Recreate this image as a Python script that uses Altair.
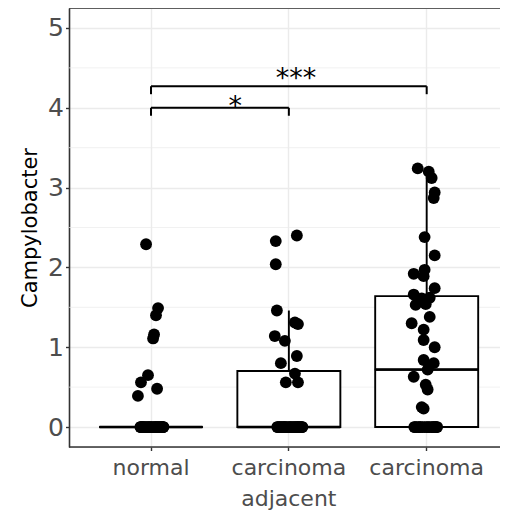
import altair as alt
import pandas as pd

groups = ["normal", "carcinoma adjacent", "carcinoma"]

# non-zero observations (value, horizontal jitter as fraction of category step)
normal_values = [2.29, 1.49, 1.40, 1.16, 1.11, 0.65, 0.56, 0.48, 0.39]
normal_jitter = [-0.036, 0.051, 0.036, 0.022, 0.015, -0.022, -0.073, 0.044, -0.095]
normal_zero_jitter = [-0.075, -0.06, 0.03, 0.088, -0.02, 0.05, -0.045, 0.07, 0.0, -0.068,
                      0.015, 0.082, -0.03, 0.042, -0.055, 0.061, -0.01, 0.025, 0.09, -0.077,
                      0.035, -0.04, 0.075, 0.005, -0.065, 0.055, -0.015, 0.08]

adjacent_values = [2.33, 2.40, 2.04, 1.46, 1.29, 1.31, 1.14, 1.08, 0.89, 0.80, 0.67, 0.56, 0.56]
adjacent_jitter = [-0.095, 0.058, -0.095, -0.087, 0.066, 0.044, -0.102, -0.029, 0.058, -0.058,
                   0.044, -0.022, 0.066]
adjacent_zero_jitter = [-0.08, 0.09, -0.05, 0.02, 0.07, -0.03, 0.045, -0.065, 0.095, 0.0,
                        -0.015, 0.06, -0.084, 0.03, 0.08, -0.04, 0.012, 0.052, -0.07, 0.098,
                        -0.022, 0.038, -0.058, 0.075, 0.005, -0.035, 0.065]

carcinoma_values = [3.24, 3.20, 3.12, 2.94, 2.87, 2.38, 2.15, 1.97, 1.92, 1.89, 1.74, 1.66,
                    1.62, 1.61, 1.54, 1.53, 1.38, 1.30, 1.22, 1.09, 1.00, 0.84, 0.80, 0.72,
                    0.63, 0.53, 0.47, 0.25, 0.23]
carcinoma_jitter = [-0.065, 0.015, 0.036, 0.058, 0.051, -0.015, 0.058, -0.015, -0.094, -0.022,
                    0.058, -0.094, 0.022, -0.036, -0.007, -0.080, 0.022, -0.109, -0.022, -0.022,
                    0.058, -0.022, 0.051, 0.007, -0.094, -0.007, 0.007, -0.036, -0.022]
carcinoma_zero_jitter = [-0.09, 0.07, -0.06, 0.02, 0.05, -0.03, 0.076, -0.075, 0.0, 0.035,
                         -0.045, 0.06, -0.015, -0.085, 0.01, 0.045, -0.05, 0.065]

# significance brackets
cmp_start = ["normal", "normal"]
cmp_end = ["carcinoma adjacent", "carcinoma"]
cmp_level = [4.0, 4.27]
tip_drop = 0.1
star_text = ["*", "***"]
star_group = ["normal", "carcinoma adjacent"]
star_offset = [0.611, 0.051]
star_y = [3.91, 4.26]

y_limits = [-0.25, 5.25]
minor_breaks = [0.5, 1.5, 2.5, 3.5, 4.5]
major_breaks = [0, 1, 2, 3, 4, 5]

rows = []
for g, vals, jit, zj in [
    ("normal", normal_values, normal_jitter, normal_zero_jitter),
    ("carcinoma adjacent", adjacent_values, adjacent_jitter, adjacent_zero_jitter),
    ("carcinoma", carcinoma_values, carcinoma_jitter, carcinoma_zero_jitter),
]:
    for v, j in zip(vals, jit):
        rows.append({"group": g, "value": v, "jitter": j})
    for j in zj:
        rows.append({"group": g, "value": 0.0, "jitter": j})
df = pd.DataFrame(rows)

bars = pd.DataFrame({"start": cmp_start, "end": cmp_end, "level": cmp_level})
tips = pd.DataFrame({
    "group": cmp_start + cmp_end,
    "level": cmp_level + cmp_level,
})
tips["low"] = tips["level"] - tip_drop
stars = pd.DataFrame({"group": star_group, "offset": star_offset, "y": star_y, "text": star_text})
minor = pd.DataFrame({"y": minor_breaks})
border = pd.DataFrame({"y": y_limits})

FONT = "DejaVu Sans"

xscale = alt.Scale(type="band", domain=groups, paddingInner=0, paddingOuter=0.0635, align=0.749)
yscale = alt.Scale(domain=y_limits, nice=False, zero=False)
offscale = alt.Scale(domain=[-0.5, 0.5])

x_axis = alt.Axis(
    title=None, labelAngle=0, labelFont=FONT, labelFontSize=22, labelColor="#4D4D4D",
    labelExpr="split(datum.label, ' ')", labelLineHeight=31, labelPadding=7,
    tickColor="#333333", tickSize=3.5, tickWidth=1.4, domain=False,
    grid=True, gridColor="#EBEBEB", gridWidth=1.4,
)
y_axis = alt.Axis(
    title="Campylobacter", values=major_breaks, labelFont=FONT, labelFontSize=25,
    labelColor="#4D4D4D", labelPadding=2, tickColor="#333333", tickSize=3.5, tickWidth=1.4,
    domain=True, domainColor="#333333", domainWidth=1.6,
    grid=True, gridColor="#EBEBEB", gridWidth=1.4,
    titleFont=FONT, titleFontSize=21, titleFontWeight="normal", titleColor="black",
    titlePadding=7,
)

minor_layer = alt.Chart(minor).mark_rule(color="#EBEBEB", strokeWidth=0.7).encode(
    y=alt.Y("y:Q", scale=yscale, axis=y_axis)
)

box = alt.Chart(df).mark_boxplot(
    extent=1.5, size=103, outliers=False, ticks=False, color="black",
    box={"fill": "white", "stroke": "black", "strokeWidth": 1.9},
    median={"color": "black", "fill": "black", "stroke": "black", "strokeWidth": 1,
            "opacity": 1, "fillOpacity": 1, "thickness": 1.6},
    rule={"color": "black", "stroke": "black", "strokeWidth": 1.9},
).encode(
    x=alt.X("group:N", scale=xscale, axis=x_axis, sort=groups),
    y=alt.Y("value:Q", scale=yscale, axis=y_axis),
)

points = alt.Chart(df).mark_circle(size=140, color="black", opacity=1).encode(
    x=alt.X("group:N", scale=xscale, axis=x_axis, sort=groups),
    xOffset=alt.XOffset("jitter:Q", scale=offscale),
    y=alt.Y("value:Q", scale=yscale, axis=y_axis),
)

hbar = alt.Chart(bars).mark_rule(color="black", strokeWidth=2).encode(
    x=alt.X("start:N", scale=xscale, axis=x_axis, sort=groups),
    x2="end:N",
    y=alt.Y("level:Q", scale=yscale, axis=y_axis),
)

vtip = alt.Chart(tips).mark_rule(color="black", strokeWidth=2).encode(
    x=alt.X("group:N", scale=xscale, axis=x_axis, sort=groups),
    y=alt.Y("level:Q", scale=yscale, axis=y_axis),
    y2="low:Q",
)

text = alt.Chart(stars).mark_text(font=FONT, fontSize=27, baseline="alphabetic",
                                  color="black").encode(
    x=alt.X("group:N", scale=xscale, axis=x_axis, sort=groups),
    xOffset=alt.XOffset("offset:Q", scale=offscale),
    y=alt.Y("y:Q", scale=yscale, axis=y_axis),
    text="text:N",
)

frame = alt.Chart(border).mark_rule(color="#333333", strokeWidth=1.6).encode(
    y=alt.Y("y:Q", scale=yscale, axis=y_axis)
)

chart = alt.layer(minor_layer, box, points, hbar, vtip, text, frame).properties(
    width=431, height=439,
    autosize=alt.AutoSizeParams(type="none"),
    padding={"left": 61, "top": 0, "right": 0, "bottom": 70},
).configure_view(stroke=None).configure(background="white")

chart.save("out.html", embed_options={"renderer": "svg", "actions": False})
